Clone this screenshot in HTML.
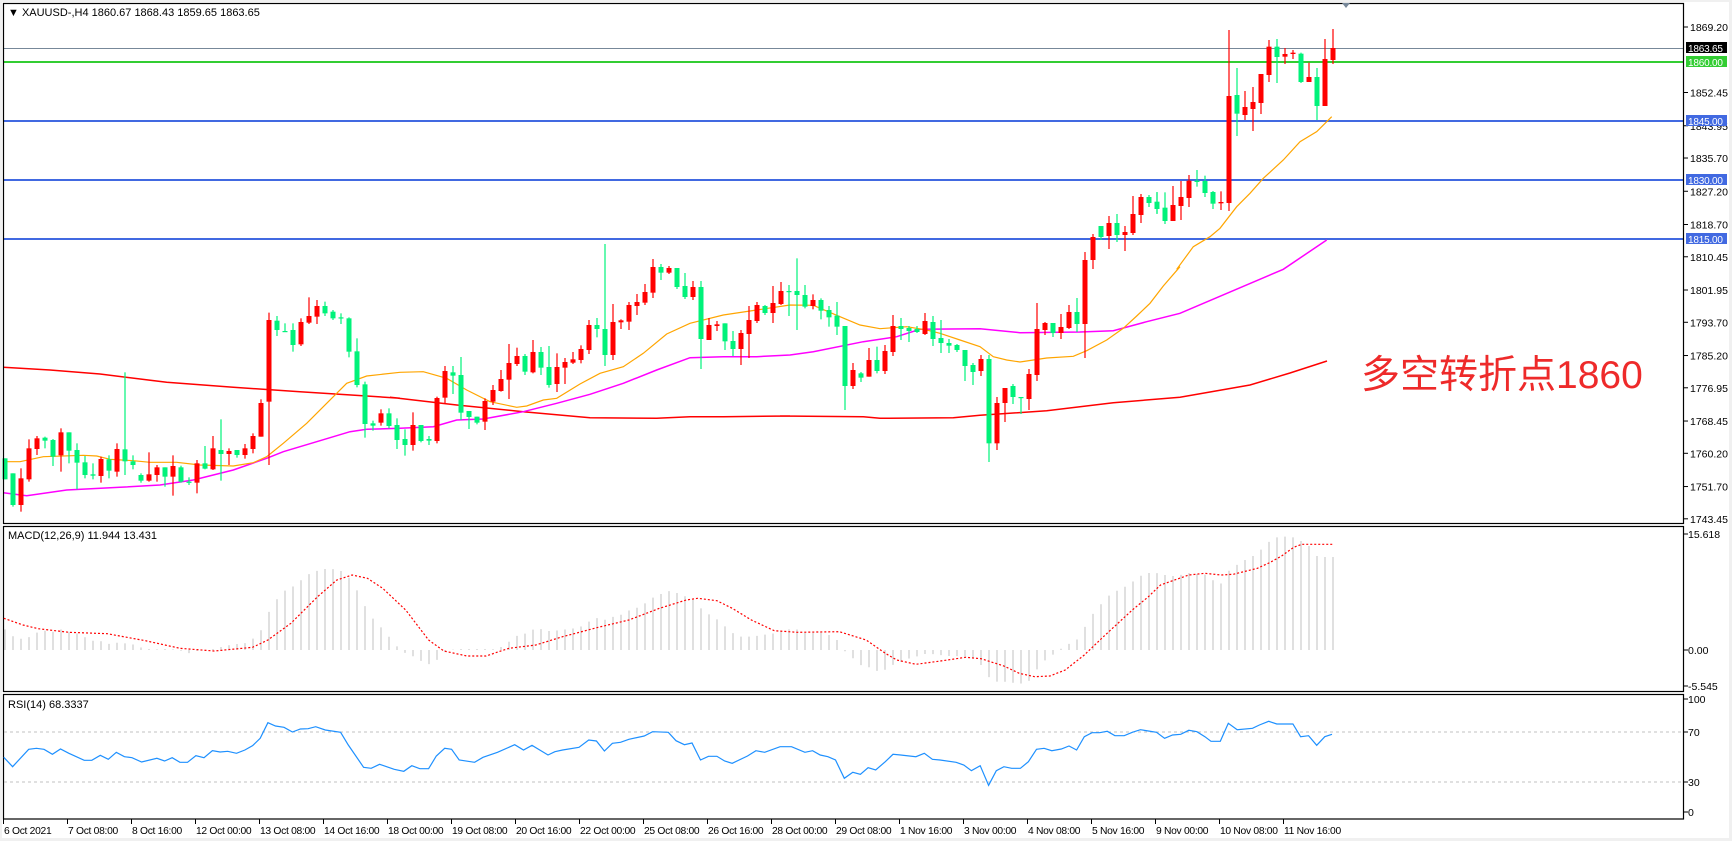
<!DOCTYPE html>
<html><head><meta charset="utf-8"><style>
html,body{margin:0;padding:0;background:#f0f0f0;}
svg{display:block;font-family:"Liberation Sans",Tahoma,sans-serif;}
</style></head><body>
<svg id="s" width="1732" height="841" xmlns="http://www.w3.org/2000/svg">
<rect x="0" y="0" width="1732" height="841" fill="#f0f0f0"/>
<rect x="2" y="2" width="1727" height="836" fill="#ffffff"/>
<g id="g"></g>
<text x="1361" y="388" font-size="39" fill="#ee2a2a" font-family="'Liberation Sans','Noto Sans CJK SC',sans-serif">多空转折点1860</text>
</svg>
<script>
var NS="http://www.w3.org/2000/svg",G=document.getElementById('g');
function el(t,a,txt){var e=document.createElementNS(NS,t);for(var k in a)e.setAttribute(k,a[k]);if(txt!=null)e.textContent=txt;G.appendChild(e);return e;}
function Y(p){return 27+(1869.2-p)*3.911;}
el('line',{x1:3,x2:1684,y1:48.5,y2:48.5,stroke:'#778899','stroke-width':1});
el('line',{x1:3,x2:1684,y1:62,y2:62,stroke:'#32cd32','stroke-width':2});
[121,180,239].forEach(function(y){el('line',{x1:3,x2:1684,y1:y,y2:y,stroke:'#4169e1','stroke-width':2});});
function conv(l,ox,oy,sx){var r=[];for(var i=0;i<l.length;i+=2)r.push([ox+l[i]/sx,oy+l[i+1]/3]);return r;}
function poly(p,c,w,d){el('polyline',{points:p.map(function(q){return q[0].toFixed(1)+','+q[1].toFixed(1)}).join(' '),fill:'none',stroke:c,'stroke-width':w||1,'stroke-dasharray':d||'none'});}
var red=conv([10,412,150,420,300,432,500,457,700,472,900,485,1100,498,1200,505],0,230,3)
 .concat(conv([0,502,200,525,400,545,600,563,800,565,900,560,1000,560,1200,558],390,230,3))
 .concat(conv([0,708,250,710,300,715,520,713,600,706,800,692,1000,668,1200,652],780,180,3));
red.push([1250,385],[1290,373],[1327,361]);
poly(red,'#ff0000',1.5);
var mag=conv([10,788,80,797,200,780,360,772,480,765,580,750,700,720,800,685,850,665,950,635,1050,605,1100,598,1200,595],0,230,3)
 .concat(conv([130,590,200,570,280,567,400,545,500,520,600,493,700,460,800,420,900,383,1000,380,1100,380,1200,375],390,230,3))
 .concat(conv([100,515,250,485,350,470,420,448,600,446,720,458,900,456,1000,452,1100,425,1200,400],780,180,3))
 .concat(conv([400,748,530,660],1150,20,3));
poly(mag,'#ff00ff',1.5);
var org=conv([10,695,60,695,130,680,250,676,290,678,330,688,400,692,450,697,530,697,600,705,700,708,760,698,800,680,850,640,920,580,980,520,1040,460,1100,438,1200,427],0,230,3)
 .concat(conv([100,425,170,445,230,480,300,515,380,532,410,528,460,510,500,505,570,462,630,430,700,410,760,370,830,312,900,280,1000,255,1100,240,1200,225],390,230,3))
 .concat(conv([100,376,180,410,240,435,300,446,380,440,440,450,480,460,540,480,600,500,640,530,680,540,720,546,760,540,800,534,880,529,920,512,980,480,1030,445,1070,408,1110,370,1150,318,1200,260],780,180,3))
 .concat(conv([80,748,130,680,180,650,210,625,260,560,300,520,340,475,400,420,450,365,500,335,545,290],1150,20,3));
poly(org,'#ffa500',1.2);
var groups=[[230,0,"g685,748,685,748 g730,825,730,830 r745,825,715,845 r655,748,628,755 r625,657,618,675 g623,632,620,655 g630,680,627,708 r607,676,595,725 g607,662,607,700 g660,698,640,778 g697,735,678,745 g733,737,700,748 r687,738,680,758 g688,722,676,745 r657,725,640,740 g658,694,427,735 g694,705,676,718 g735,752,730,758 r733,752,667,755 r712,735,705,755 g712,740,712,770 r708,740,676,797 g712,755,707,758 g755,758,742,765 r700,758,690,790 g700,716,648,718 r655,718,618,720 g660,672,568,752 r663,672,655,705 g660,675,660,683 r655,675,642,686 r618,657,610,670 r519,620,508,620 r270,515,248,705 g272,300,258,318 g303,305,280,305 g300,345,280,365 r276,343,265,348 r258,278,202,282 r228,260,210,282 g228,250,215,258 g245,265,240,270 g262,265,250,282 g265,365,262,382 g364,465,325,472 g463,582,455,623 g580,587,572,602 r550,578,538,587 g550,588,535,595"],
[230,49,"g585,630,565,657 g627,645,598,677 r585,645,547,662 g585,633,585,637 g627,632,618,645 r504,633,500,640 r423,503,408,520 g427,437,408,492 g435,548,381,570 g543,561,543,597 g560,578,560,583 r513,575,505,600 r480,515,465,525 r447,483,420,485 r399,449,342,507 r378,402,353,408 g378,425,372,435 r366,427,330,430 g366,413,351,435 g411,465,348,473 r411,462,370,486 r396,413,384,462 r388,398,366,402 r357,390,346,400 r285,360,270,372 g285,297,264,322 g297,375,42,408 r276,375,222,390 r271,277,268,297 r225,275,216,300 r216,228,192,255 r186,218,162,225 r111,188,87,204 g111,128,102,150 r114,128,108,132 g114,171,114,177 g168,201,129,207 r171,201,153,210 g171,327,153,417 r285,330,264,330 r283,288,273,303 g280,334,280,360 g333,357,303,378 r309,357,300,405 r270,312,228,384 r225,273,216,279 g228,249,225,255 r219,249,168,279 r183,222,156,225 g183,186,165,258"],
[180,99,"g333,345,235,450 g345,380,315,385 r360,378,343,388 g360,392,355,418 g390,412,378,440 g407,440,366,465 g438,618,438,690 r570,618,549,627 g580,593,576,606 r540,590,504,590 g540,573,500,580 r513,573,495,582 r438,516,405,528 g438,447,414,480 g444,453,438,486 g447,456,438,459 r423,462,399,465 g426,477,408,498 g474,489,420,519 g489,497,477,519 g495,510,492,516 g510,558,510,603 g555,576,549,615 r537,573,525,588 g537,790,525,846 r669,790,651,810 r624,669,624,726 g618,651,612,672 g651,654,651,702 r582,657,567,690 r447,585,369,603 r429,450,426,465 g429,459,429,471 r441,459,402,477 r396,444,375,447 g396,432,354,456 r240,432,216,534 r171,240,162,267 g138,171,138,180 r129,168,108,207 g129,165,102,186 r156,165,138,213 r102,159,48,165 r51,105,42,129 g51,69,45,81 g66,87,36,102"],
[20,144,"g545,567,517,580 g563,603,517,612 r555,603,498,603 r531,558,483,600 r482,534,465,561 g482,486,450,500 g483,519,467,531 g516,551,513,567 r546,550,514,570 r228,549,30,573 g225,281,144,348 r261,285,213,300 r246,267,201,333 r162,249,162,282 r80,165,60,186 g80,111,57,189 r102,110,84,132 r98,102,90,117 g101,186,98,189 r171,186,128,186 g171,258,144,300 r117,258,57,258 r84,120,27,132"]];
groups.forEach(function(g){var oy=g[0],i0=g[1];g[2].split(' ').forEach(function(s,k){
 var c=s[0]=='g'?'#00f27a':'#ff0000',v=s.slice(1).split(',').map(Number);var x=5+8*(i0+k);
 var bt=oy+v[0]/3,bb=oy+v[1]/3,wt=oy+v[2]/3,wb=oy+v[3]/3;
 el('line',{x1:x,x2:x,y1:wt,y2:wb,stroke:c,'stroke-width':1.2});
 el('rect',{x:x-2.5,y:bt,width:5,height:Math.max(1.2,bb-bt),fill:c});
});});
el('rect',{x:3.5,y:3.5,width:1680,height:520,fill:'none',stroke:'#000','stroke-width':1.2});
el('rect',{x:3.5,y:526.5,width:1680,height:165,fill:'none',stroke:'#000','stroke-width':1.2});
el('rect',{x:3.5,y:694.5,width:1680,height:124.5,fill:'none',stroke:'#000','stroke-width':1.2});
el('text',{x:8,y:16,'font-size':11,fill:'#000'},'\u25BC XAUUSD-,H4  1860.67 1868.43 1859.65 1863.65');
[1869.20,1852.45,1843.95,1835.70,1827.20,1818.70,1810.45,1801.95,1793.70,1785.20,1776.95,1768.45,1760.20,1751.70,1743.45].forEach(function(p){
 var y=Y(p);if(y>522)y=521.5;el('line',{x1:1684,x2:1688,y1:y,y2:y,stroke:'#000'});el('text',{x:1690,y:y+4,'font-size':10.5,fill:'#000'},p.toFixed(2));});
[[48,'#000','1863.65'],[62,'#32cd32','1860.00'],[121,'#4169e1','1845.00'],[180,'#4169e1','1830.00'],[239,'#4169e1','1815.00']].forEach(function(b){
 el('rect',{x:1686,y:b[0]-6,width:41,height:11,fill:b[1]});el('text',{x:1688,y:b[0]+4,'font-size':10,fill:'#fff','letter-spacing':'-0.2'},b[2]);});
el('path',{d:'M1342,3 L1350,3 L1346,8 Z',fill:'#778899'});
function interp(arr,x){for(var i=1;i<arr.length;i++){if(arr[i][0]>=x){var a=arr[i-1],b=arr[i];var t=(x-a[0])/((b[0]-a[0])||1);return a[1]+(b[1]-a[1])*t;}}return arr[arr.length-1][1];}
function seg(l,ox,sx,lo,hi){return conv(l,ox,540,sx).filter(function(p){return p[0]>=lo&&p[0]<hi;});}
var hist=seg([10,265,32,288,52,297,75,292,96,278,117,272,137,276,158,268,178,275,200,280,221,291,241,302,262,303,283,312,304,308,325,310,346,313,367,322,388,327,410,328,430,327,451,328,472,332,492,340,513,333,535,330,556,327,577,321,597,316,618,312,639,310,660,297,680,276,701,219,722,180,743,153,764,141,785,122,806,103,827,93,848,87,869,87,890,92,910,110,931,147,952,195,973,234,994,260,1015,288,1036,318,1057,338,1078,348,1099,362,1120,373,1140,362,1161,337,1182,329,1203,327,1224,327,1245,327,1266,327,1287,328,1308,322,1329,306,1349,288,1370,282,1391,269,1412,267,1433,273,1453,272,1474,269,1495,266,1516,261,1537,246,1558,235],0,2.613,0,585)
.concat(seg([10,270,32,267,53,262,74,246,95,234,116,240,137,231,158,225,179,212,200,204,221,191,241,174,262,163,283,153,304,158,325,168,346,178,367,204,388,222,409,237,430,258,451,279,472,290,492,290,513,288,534,284,555,281,576,273,597,268,618,268,639,278,660,278,681,278,701,284,722,297,743,332,764,353,785,375,806,381,827,393,848,390,869,375,889,367,910,356,931,350,952,342,972,342,993,345,1014,348,1035,348,1056,350,1077,353,1098,371,1119,410,1140,425,1161,425,1182,428,1203,431,1224,425,1245,390,1266,362,1287,345,1308,327,1329,312,1349,302,1370,264,1391,224,1412,195,1433,168,1454,153,1475,140,1496,126,1517,108,1538,99,1559,99],560,2.613,585,1120))
.concat(seg([0,195,20,168,40,153,61,141,80,126,100,108,120,99,140,99,160,105,180,108,200,105,220,99,239,102,259,103,279,120,299,132,319,93,339,75,359,60,379,48,398,30,418,6,438,-8,458,-10,478,-8,498,3,518,18,537,48,557,51,577,51],1100,2.478,1120,2000));
for(var i=0;i<167;i++){var x=5+8*i;var v=interp(hist,x);if(v<535)v=535;el('line',{x1:x,x2:x,y1:650,y2:v,stroke:'#c0c0c0','stroke-width':1});}
var sig=seg([10,235,60,255,100,266,180,277,280,281,380,302,470,325,560,333,660,322,700,300,760,250,830,170,880,120,920,105,960,115,1000,145,1060,210,1120,300,1160,333,1220,348,1270,348,1330,325,1400,315,1470,290,1530,265,1568,260],0,2.613,0,585)
.concat(seg([60,268,100,262,180,240,260,205,330,180,360,175,410,182,450,205,500,240,560,272,620,277,730,275,800,300,850,340,880,360,930,373,1000,362,1060,352,1100,356,1160,378,1200,400,1240,410,1280,408,1320,390,1370,345,1420,290,1480,220,1530,165,1568,140],560,2.613,585,1120))
.concat(seg([0,297,40,255,80,210,120,170,150,135,180,122,220,105,260,100,300,105,330,103,350,97,390,85,420,68,450,48,480,22,500,13,577,13],1100,2.478,1120,2000));
poly(sig,'#ff0000',1.2,'2,2');
el('text',{x:8,y:539,'font-size':11,fill:'#000'},'MACD(12,26,9) 11.944 13.431');
[[534,'15.618'],[650,'0.00'],[686,'-5.545']].forEach(function(t){el('line',{x1:1684,x2:1688,y1:t[0],y2:t[0],stroke:'#000'});el('text',{x:1688,y:t[0]+4,'font-size':10.5,fill:'#000'},t[1]);});
[732,782].forEach(function(y){el('line',{x1:4,x2:1684,y1:y,y2:y,stroke:'#c0c0c0','stroke-dasharray':'3,3'});});
var rsi=seg([10,652,33,680,75,628,95,625,115,628,137,643,158,627,180,640,220,661,240,661,262,646,283,658,304,637,325,650,345,653,370,666,410,655,430,663,450,653,470,667,490,667,512,647,533,653,555,632,575,636,595,634,618,640,640,630,660,617,680,595,700,548,720,558,742,562,764,576,785,567,805,566,825,560,850,570,890,577,910,615,950,682,970,685,992,673,1030,688,1055,694,1076,677,1097,686,1120,686,1140,648,1162,625,1180,628,1200,660,1240,667,1262,652,1300,637,1345,614,1368,630,1390,616,1432,645,1450,635,1470,630,1513,622,1535,602,1550,602,1568,615],0,2.613,0,585)
.concat(seg([75,600,95,603,116,633,137,610,158,607,180,598,220,588,242,575,283,577,303,602,325,614,345,609,367,660,388,649,410,649,430,663,450,670,490,648,512,632,535,637,575,620,605,620,640,637,660,632,680,645,700,650,720,660,743,715,765,697,785,703,805,683,825,690,850,665,870,643,890,645,930,650,952,640,973,658,993,660,1035,667,1055,675,1075,692,1098,677,1120,736,1140,692,1160,680,1180,685,1203,685,1224,665,1245,628,1265,625,1285,632,1310,627,1330,618,1350,630,1370,590,1390,578,1410,578,1430,574,1450,587,1475,587,1495,577,1517,568,1540,573,1568,587],560,2.613,585,1120))
.concat(seg([20,574,40,587,60,587,80,577,100,569,120,573,140,577,160,595,180,585,200,583,220,571,240,575,260,590,275,604,298,604,318,550,340,569,378,565,395,555,418,544,438,552,478,552,497,590,517,587,537,616,557,590,575,583],1100,2.478,1120,2000));
poly(rsi,'#1e90ff',1.2);
el('text',{x:8,y:708,'font-size':11,fill:'#000'},'RSI(14) 68.3337');
[[699,'100'],[732,'70'],[782,'30'],[812,'0']].forEach(function(t){el('line',{x1:1684,x2:1688,y1:t[0],y2:t[0],stroke:'#000'});el('text',{x:1688,y:t[0]+4,'font-size':10.5,fill:'#000'},t[1]);});
['6 Oct 2021','7 Oct 08:00','8 Oct 16:00','12 Oct 00:00','13 Oct 08:00','14 Oct 16:00','18 Oct 00:00','19 Oct 08:00','20 Oct 16:00','22 Oct 00:00','25 Oct 08:00','26 Oct 16:00','28 Oct 00:00','29 Oct 08:00','1 Nov 16:00','3 Nov 00:00','4 Nov 08:00','5 Nov 16:00','9 Nov 00:00','10 Nov 08:00','11 Nov 16:00'].forEach(function(t,k){
 var x=3+64*k;el('line',{x1:x+0.5,x2:x+0.5,y1:819,y2:824,stroke:'#000'});el('text',{x:x+1,y:834,'font-size':10.3,fill:'#000','letter-spacing':'-0.3'},t);});
</script>
</body></html>
